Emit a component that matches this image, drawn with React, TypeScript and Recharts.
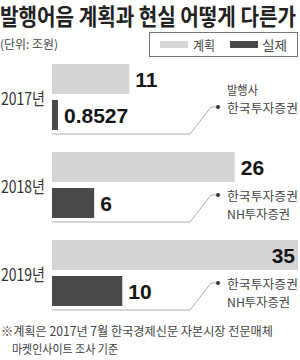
import React from "react";
import { BarChart, Bar, XAxis, YAxis } from "recharts";

const years = ["2017년", "2018년", "2019년"];
const planned = [11, 26, 35];
const actual = [0.8527, 6, 10];
const issuers = [["한국투자증권"], ["한국투자증권", "NH투자증권"], ["한국투자증권", "NH투자증권"]];
const issuerHeader = "발행사";
const seriesNames = ["계획", "실제"];

const data = years.map((year, i) => ({ year, planned: planned[i], actual: actual[i] }));

const LIGHT = "#d4d4d4";
const DARK = "#4a4a4a";
const KR = '"Noto Sans CJK KR", "Noto Sans", sans-serif';
const NUM = '"Liberation Sans", Arial, sans-serif';

// widths of the condensed captions
const captionWidth: Record<string, number> = {
  "발행사": 31,
  "한국투자증권": 71,
  "NH투자증권": 63,
};

function YearTick(props: any) {
  const { y, payload } = props;
  return (
    <text x={1} y={y} dominantBaseline="central" fontFamily={KR} fontSize={17} fill="#333"
      textLength={44} lengthAdjust="spacingAndGlyphs">
      {payload.value}
    </text>
  );
}

function ValueText(props: any) {
  const { x, y, width, height, value } = props;
  const text = String(value);
  const w = text.length * 11.5;
  const inside = x + width + 6 + w > 298;
  return (
    <text x={inside ? x + width - 3 : x + width + 6} y={y + height / 2}
      textAnchor={inside ? "end" : "start"} dominantBaseline="central"
      fontFamily={NUM} fontWeight={700} fontSize={21} fill="#151515">
      {text}
    </text>
  );
}

function renderPlanned(props: any) {
  return <ValueText {...props} />;
}

function renderActual(props: any) {
  const { x, y, width, height, index } = props;
  const lineY = y + height + 4;
  const dotY = y + height / 2 - 8;
  const lines = issuers[index] || [];
  return (
    <g>
      <ValueText x={x} y={y} width={width} height={height} value={actual[index]} />
      <path d={`M${x} ${lineY} H190`} stroke="#c8c8c8" strokeWidth={1.5} fill="none" />
      <path d={`M190 ${lineY} L211 ${dotY} H218`} stroke="#999" strokeWidth={0.8} fill="none" />
      <circle cx={218} cy={dotY} r={2} fill="#333" />
      {index === 0 && (
        <text x={227} y={dotY - 18} dominantBaseline="central" fontFamily={KR} fontSize={12}
          fill="#444" textLength={captionWidth[issuerHeader]} lengthAdjust="spacingAndGlyphs">
          {issuerHeader}
        </text>
      )}
      {lines.map((l, k) => (
        <text key={k} x={227} y={dotY + k * 18} dominantBaseline="central" fontFamily={KR}
          fontSize={12} fill="#444" textLength={captionWidth[l]} lengthAdjust="spacingAndGlyphs">
          {l}
        </text>
      ))}
    </g>
  );
}

export default function App() {
  return (
    <div style={{ position: "absolute", left: 0, top: 0, width: 300, height: 360, background: "#fff" }}>
      <BarChart layout="vertical" width={300} height={360} data={data}
        margin={{ top: 53, right: 2, bottom: 43, left: 0 }} barSize={30} barGap={6}>
        <XAxis type="number" domain={[0, 35]} hide />
        <YAxis type="category" dataKey="year" width={52} axisLine={false} tickLine={false}
          tick={<YearTick />} />
        <Bar dataKey="planned" fill={LIGHT} isAnimationActive={false} label={renderPlanned} />
        <Bar dataKey="actual" fill={DARK} isAnimationActive={false} label={renderActual} />
      </BarChart>
      <svg width={300} height={360} style={{ position: "absolute", left: 0, top: 0, pointerEvents: "none" }}>
        <text transform="translate(0 15) scale(1 1.2)" x={0} y={0} dominantBaseline="central"
          fontFamily={KR} fontWeight={700} fontSize={19} fill="#222" textLength={296}
          lengthAdjust="spacingAndGlyphs">
          발행어음 계획과 현실 어떻게 다른가
        </text>
        <text x={0} y={43} dominantBaseline="central" fontFamily={KR} fontSize={12} fill="#444"
          textLength={58} lengthAdjust="spacingAndGlyphs">
          (단위: 조원)
        </text>
        <rect x={149.5} y={32.5} width={148} height={24} fill="none" stroke="#777" />
        <rect x={160} y={41} width={28} height={7} fill={LIGHT} />
        <text x={193} y={44.5} dominantBaseline="central" fontFamily={KR} fontSize={13} fill="#444"
          textLength={22} lengthAdjust="spacingAndGlyphs">
          {seriesNames[0]}
        </text>
        <rect x={230} y={41} width={28} height={7} fill={DARK} />
        <text x={262} y={44.5} dominantBaseline="central" fontFamily={KR} fontSize={13} fill="#444"
          textLength={25} lengthAdjust="spacingAndGlyphs">
          {seriesNames[1]}
        </text>
        <text x={1} y={330.5} dominantBaseline="central" fontFamily={KR} fontSize={12.5} fill="#444"
          textLength={272} lengthAdjust="spacingAndGlyphs">
          ※계획은 2017년 7월 한국경제신문 자본시장 전문매체
        </text>
        <text x={12} y={348.5} dominantBaseline="central" fontFamily={KR} fontSize={12.5} fill="#444"
          textLength={106} lengthAdjust="spacingAndGlyphs">
          마켓인사이트 조사 기준
        </text>
      </svg>
    </div>
  );
}
